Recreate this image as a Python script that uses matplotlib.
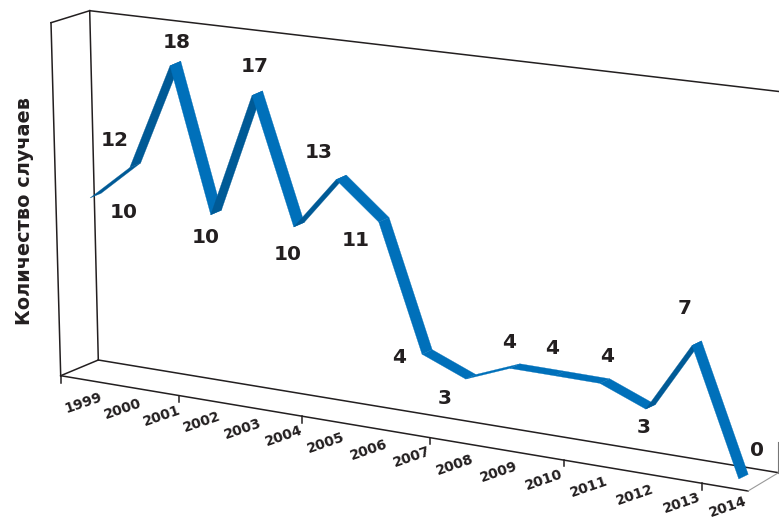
import matplotlib
matplotlib.use("Agg")
import matplotlib.pyplot as plt
from matplotlib.patches import Polygon
from matplotlib.transforms import Transform

years = [1999, 2000, 2001, 2002, 2003, 2004, 2005, 2006, 2007, 2008, 2009, 2010, 2011, 2012, 2013, 2014]
cases = [10, 12, 18, 10, 17, 10, 13, 11, 4, 3, 4, 4, 4, 3, 7, 0]
y_title = "Количество случаев"

# label placement, pixels relative to the front edge of the ribbon at each point
label_dx = [34, -15, 6.7, -5, 3, -5.7, -17, -22.7, -23, -20.7, -1.3, -3, 6.7, -1.7, -7, 18]
label_dy = [15, -27.6, -23, 23, -29.5, 27, -27.7, 18, 3, 19, -25.4, -27.8, -26.4, 18, -36.5, -29]

INK = "#231f20"
BRIGHT = "#0070ba"
DARK = "#005a96"


class Projection(Transform):
    """Oblique projection of (year, value) on to the picture, in pixels."""
    input_dims = output_dims = 2

    def transform_non_affine(self, values):
        out = values.copy().astype(float)
        i = values[:, 0] - years[0]
        v = values[:, 1]
        out[:, 0] = 90 + 39.5 * i + 0.25 * i ** 2
        out[:, 1] = 377 + 5.3 * i + 0.1 * i ** 2 - 17.9 * v
        return out


proj = Projection()

fig = plt.figure(figsize=(7.79, 5.21), dpi=100)
ax = fig.add_axes([0, 0, 1, 1])
ax.set_xlim(0, 779)
ax.set_ylim(521, 0)
ax.axis("off")


def edge(p, q, color=INK, lw=1.1):
    ax.plot([p[0], q[0]], [p[1], q[1]], color=color, lw=lw, solid_capstyle="projecting", zorder=1)


# box of the 3-D chart
back_tl, back_bl = (89.7, 10.7), (98.3, 360)
side_tl, front_bl = (51, 22.7), (60.7, 375.7)
back_br, front_br = (778.5, 472.7), (748, 491)
edge(back_tl, (779, 91.5))
edge(back_tl, back_bl)
edge(back_tl, side_tl)
edge(side_tl, front_bl)
edge(front_bl, back_bl)
edge(back_bl, back_br)
edge(front_bl, front_br)
edge(front_br, back_br, color="#999999", lw=0.8)
edge(back_br, (778.5, 442), color="#777777", lw=0.8)
edge(front_bl, (60.7, 383))


def axis_x(j):
    return 61 + 38.48 * j + 0.283 * j ** 2


def axis_y(x):
    return 375.7 + (x - 60.7) * 0.1674


# category ticks, every third boundary
for j in range(3, len(years), 3):
    x = axis_x(j)
    edge((x, axis_y(x)), (x, axis_y(x) + 6.5))

# category labels (kept inside the bottom edge of the picture)
for k, year in enumerate(years):
    x = axis_x(k + 0.5)
    ax.text(x + 3, min(axis_y(x) + 23.5, 507), str(year), rotation=19, rotation_mode="anchor",
            ha="center", va="center", fontsize=10.0, fontweight="bold", color=INK,
            family="DejaVu Sans")

# ribbon
front = proj.transform([[y, c] for y, c in zip(years, cases)])
for k in range(len(years) - 1):
    (x0, y0), (x1, y1) = front[k], front[k + 1]
    d0 = 11 - 0.1 * k
    d1 = 11 - 0.1 * (k + 1)
    shade = DARK if cases[k + 1] - cases[k] >= 2 else BRIGHT
    ax.add_patch(Polygon([(x0, y0), (x1, y1), (x1 + d1, y1 - 4.6), (x0 + d0, y0 - 4.6)],
                         closed=True, facecolor=shade, edgecolor=shade, lw=0.2, zorder=3))

# value labels
for k, c in enumerate(cases):
    ax.text(front[k][0] + label_dx[k], front[k][1] + label_dy[k], str(c), ha="center", va="center",
            fontsize=14.5, fontweight="bold", color=INK, family="DejaVu Sans", zorder=4)

ax.text(25, 211, y_title, rotation=90, ha="center", va="center", fontsize=13.9,
        fontweight="bold", color=INK, family="DejaVu Sans")

fig.savefig("out.png", dpi=100)
